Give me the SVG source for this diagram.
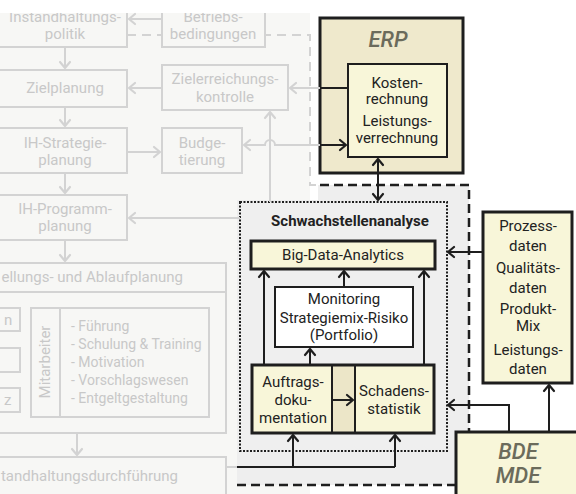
<svg xmlns="http://www.w3.org/2000/svg" width="576" height="494" viewBox="0 0 576 494">
<style>
text{font-family:Roboto,"Liberation Sans",sans-serif;font-size:15px;text-anchor:middle;fill:#222}
.f{fill:#c8c8c8}
.fl{fill:#c8c8c8;text-anchor:start}
.fe{fill:#c8c8c8;text-anchor:end}
.fb{fill:#f7f7f5;stroke:#d3d3d3;stroke-width:2}
.fc{fill:none;stroke:#d3d3d3;stroke-width:2;marker-end:url(#ga)}
.bc{fill:none;stroke:#1e1e1e;stroke-width:2;marker-end:url(#ba)}
.yb{fill:#f8f6d9;stroke:#1e1e1e;stroke-width:3}
.it{font-style:italic;font-weight:500;font-size:22px;fill:#6b6b5b}
</style>
<defs>
<marker id="ba" viewBox="-8 -7 10 14" refX="0" refY="0" markerWidth="10" markerHeight="14" markerUnits="userSpaceOnUse" orient="auto-start-reverse"><path d="M-6,-5 L0,0 L-6,5" fill="none" stroke="#1e1e1e" stroke-width="2.2" stroke-linecap="round" stroke-linejoin="round"/></marker>
<marker id="ga" viewBox="-8 -7 10 14" refX="0" refY="0" markerWidth="10" markerHeight="14" markerUnits="userSpaceOnUse" orient="auto-start-reverse"><path d="M-6,-5 L0,0 L-6,5" fill="none" stroke="#d3d3d3" stroke-width="2.2" stroke-linecap="round" stroke-linejoin="round"/></marker>
</defs>
<rect x="0" y="0" width="576" height="494" fill="#fff"/>
<rect x="0" y="13" width="310" height="481" fill="#f7f7f5"/>
<path d="M318,185 H469 V485 H237 V200 H318 Z" fill="#eeeeee"/>
<path d="M127,35 H310 V185 H316" fill="none" stroke="#d3d3d3" stroke-width="2" stroke-dasharray="9,6"/>
<path d="M320,185 H469 V432 M237,485 H456" fill="none" stroke="#1e1e1e" stroke-width="2.5" stroke-dasharray="9,5"/>

<g id="politik"><rect class="fb" x="-5" y="-5" width="132" height="52"/><text class="f" x="65" y="21.5">Instandhaltungs-</text><text class="f" x="65" y="39">politik</text></g>
<g id="betrieb"><rect class="fb" x="162" y="-5" width="103" height="52"/><text class="f" x="213" y="21.5">Betriebs-</text><text class="f" x="213" y="39">bedingungen</text></g>
<g id="zielplanung"><rect class="fb" x="-5" y="70" width="132" height="37"/><text class="f" x="65" y="93">Zielplanung</text></g>
<g id="zielkontrolle"><rect class="fb" x="162" y="65" width="126" height="45"/><text class="f" x="225" y="84">Zielerreichungs-</text><text class="f" x="225" y="101.5">kontrolle</text></g>
<g id="strategie"><rect class="fb" x="-5" y="128" width="132" height="45"/><text class="f" x="65" y="148">IH-Strategie-</text><text class="f" x="65" y="164.5">planung</text></g>
<g id="budget"><rect class="fb" x="162" y="128" width="80" height="45"/><text class="f" x="202" y="148">Budge-</text><text class="f" x="202" y="164.5">tierung</text></g>
<g id="programm"><rect class="fb" x="-5" y="195" width="132" height="45"/><text class="f" x="65" y="213.5">IH-Programm-</text><text class="f" x="65" y="230.5">planung</text></g>
<g id="ablauf"><rect class="fb" x="-5" y="263" width="231" height="170"/><line x1="-5" y1="292" x2="226" y2="292" stroke="#d3d3d3" stroke-width="2"/><text class="fe" x="183" y="282">ellungs- und Ablaufplanung</text>
<rect class="fb" x="-5" y="308" width="25" height="23"/><text class="fl" x="4" y="325">n</text>
<rect class="fb" x="-5" y="348" width="25" height="24"/>
<rect class="fb" x="-5" y="388" width="25" height="24"/><text class="fl" x="4" y="405">z</text>
<rect class="fb" x="31" y="308" width="178" height="109"/><line x1="60" y1="308" x2="60" y2="417" stroke="#d3d3d3" stroke-width="2"/>
<text class="f" transform="translate(50,362) rotate(-90)" x="0" y="0">Mitarbeiter</text>
<text class="fl" x="71" y="331" style="font-size:14px">- Führung</text>
<text class="fl" x="71" y="349" style="font-size:14px">- Schulung &amp; Training</text>
<text class="fl" x="71" y="367" style="font-size:14px">- Motivation</text>
<text class="fl" x="71" y="385" style="font-size:14px">- Vorschlagswesen</text>
<text class="fl" x="71" y="403" style="font-size:14px">- Entgeltgestaltung</text>
</g>
<g id="durchfuehrung"><rect class="fb" x="-5" y="457" width="231" height="45"/><text class="fe" x="178" y="481">tandhaltungsdurchführung</text></g>
<rect x="0" y="0" width="576" height="13" fill="#fff"/>

<g id="erp"><rect x="320" y="18" width="143" height="155" fill="#efe9cc" stroke="#1e1e1e" stroke-width="3"/><text class="it" x="388" y="47">ERP</text></g>
<g id="kosten"><rect x="348" y="64" width="99" height="93" fill="#f8f6d9" stroke="#1e1e1e" stroke-width="2"/>
<text x="397" y="87.5">Kosten-</text><text x="397" y="104">rechnung</text><text x="397" y="126">Leistungs-</text><text x="397" y="142.5">verrechnung</text></g>
<g id="schwachstellen"><rect x="240" y="202" width="207" height="249" fill="#efefef" stroke="#1e1e1e" stroke-width="2" stroke-dasharray="2,1.5"/>
<text x="350" y="226" style="font-weight:700">Schwachstellenanalyse</text></g>
<g id="bigdata"><rect class="yb" x="251" y="241" width="184" height="28"/><text x="343" y="260">Big-Data-Analytics</text></g>
<g id="monitoring"><rect x="275" y="287" width="138" height="60" fill="#fff" stroke="#1e1e1e" stroke-width="2"/>
<text x="344" y="304">Monitoring</text><text x="344" y="323">Strategiemix-Risiko</text><text x="344" y="340">(Portfolio)</text></g>
<g id="doku">
<rect x="252" y="365" width="182" height="68" fill="#ece6c8"/>
<rect x="252" y="365" width="80" height="68" fill="#f8f6d9"/>
<rect x="355" y="365" width="79" height="68" fill="#f8f6d9"/>
<line x1="332" y1="365" x2="332" y2="433" stroke="#1e1e1e" stroke-width="2"/>
<line x1="355" y1="365" x2="355" y2="433" stroke="#1e1e1e" stroke-width="2"/>
<rect x="252" y="365" width="182" height="68" fill="none" stroke="#1e1e1e" stroke-width="3"/>
<text x="293" y="387">Auftrags-</text><text x="293" y="405">doku-</text><text x="293" y="423">mentation</text>
<text x="394" y="395.5">Schadens-</text><text x="394" y="413.5">statistik</text></g>
<g id="prozess"><rect class="yb" x="483" y="212" width="89" height="171"/>
<text x="528" y="231">Prozess-</text><text x="528" y="250.5">daten</text><text x="528" y="273">Qualitäts-</text><text x="528" y="293">daten</text>
<text x="528" y="313.5">Produkt-</text><text x="528" y="331">Mix</text><text x="528" y="354.5">Leistungs-</text><text x="528" y="374">daten</text></g>
<g id="bde"><rect class="yb" x="456" y="432" width="130" height="70"/><text class="it" x="518" y="459">BDE</text><text class="it" x="518" y="483">MDE</text></g>

<g id="connectors">
<path class="fc" d="M162,19 H129"/>
<path class="fc" d="M65,47 V68"/>
<path class="fc" d="M162,88 H129"/>
<path class="fc" d="M65,107 V126"/>
<path class="fc" d="M127,152 H160"/>
<path class="fc" d="M65,173 V193"/>
<path class="fc" d="M65,240 V261"/>
<path class="fc" d="M77,433 V455"/>
<path class="fc" d="M240,218 H129"/>
<path class="fc" d="M270,202 V112"/>
<path class="fc" d="M320,145 H275 A5,5 0 0 0 265,145 H244"/>
<path class="fc" d="M320,88 H290"/>
<path d="M348,88 H320" fill="none" stroke="#1e1e1e" stroke-width="2"/>
<path class="bc" d="M320,145 H346"/>
<path d="M226,467 H237" fill="none" stroke="#d3d3d3" stroke-width="2"/>
<path class="bc" d="M378,159 V200" style="marker-start:url(#ba)"/>
<path d="M237,467 H395" fill="none" stroke="#1e1e1e" stroke-width="2"/>
<path class="bc" d="M293,467 V435"/>
<path class="bc" d="M395,467 V435"/>
<path class="bc" d="M264,365 V271"/>
<path class="bc" d="M424,365 V271"/>
<path class="bc" d="M344,287 V271"/>
<path class="bc" d="M310,365 V349"/>
<path class="bc" d="M333,400 H353"/>
<path class="bc" d="M483,252 H448"/>
<path class="bc" d="M509,432 V405 H448"/>
<path class="bc" d="M549,432 V385"/>
</g>
</svg>
